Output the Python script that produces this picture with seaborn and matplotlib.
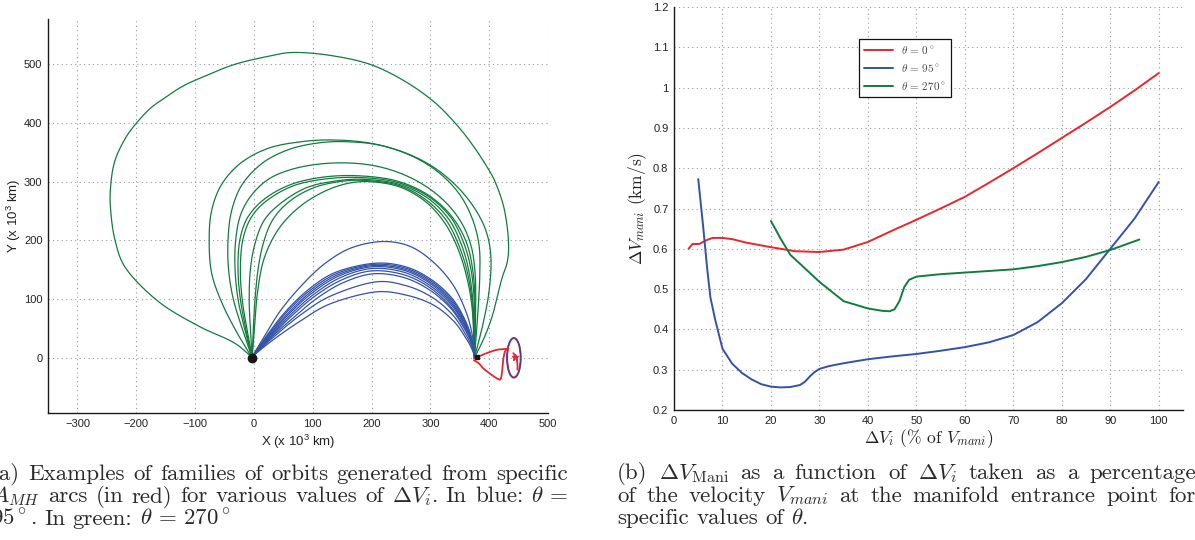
import re
import numpy as np
import pandas as pd
import matplotlib
matplotlib.use("Agg")
import matplotlib.pyplot as plt
import seaborn as sns
from matplotlib.patches import Ellipse

# ---------------------------------------------------------------- data
# (a) orbit families, waypoints in units of 10^3 km
G_LOOP = [(-4, 2), (-36, 27), (-92, 53), (-160, 94), (-216, 150), (-236, 200), (-244, 258),
          (-243, 298), (-237, 333), (-224, 364), (-206, 392), (-177, 424), (-148, 445),
          (-122, 462), (-92, 476), (-35, 499), (22, 513), (67, 520), (130, 515), (197, 500),
          (255, 472), (305, 437), (342, 400), (370, 365), (394, 329), (410, 300), (424, 260),
          (431, 220), (433, 185), (430, 160), (421, 133), (407, 77), (394, 40), (379, 8),
          (375, 1)]
G1 = [(-3, 0), (-30, 45), (-55, 95), (-72, 145), (-76, 200), (-72, 250), (-55, 295), (-22, 332),
      (25, 357), (80, 368), (134, 371), (195, 366), (255, 350), (305, 325), (345, 292), (375, 255),
      (395, 215), (403, 170), (400, 115), (390, 60), (375, 0)]
G2 = [(-3, 0), (-20, 50), (-35, 100), (-43, 150), (-44, 200), (-38, 250), (-20, 295), (15, 332),
      (60, 355), (110, 366), (158, 368), (215, 362), (270, 343), (315, 315), (350, 278), (372, 235),
      (383, 190), (384, 140), (381, 80), (375, 0)]
G3 = [(-3, 0), (-16, 50), (-27, 100), (-32, 150), (-31, 200), (-22, 245), (0, 282), (35, 310),
      (90, 327), (155, 332), (215, 325), (270, 305), (315, 275), (348, 238), (368, 195), (376, 145),
      (377, 80), (375, 0)]
G4 = [(-3, 0), (-14, 50), (-23, 100), (-27, 150), (-24, 200), (-10, 240), (20, 272), (65, 296),
      (120, 308), (178, 310), (240, 302), (292, 280), (333, 245), (360, 200), (372, 150), (376, 90),
      (375, 0)]
G5 = [(-3, 0), (-12, 50), (-20, 100), (-23, 150), (-19, 200), (-4, 240), (25, 270), (70, 294),
      (125, 305), (182, 307), (243, 299), (295, 276), (334, 240), (357, 195), (370, 145), (375, 85),
      (375, 0)]
G6 = [(-3, 0), (-6, 50), (-8, 100), (-6, 150), (2, 195), (18, 235), (48, 265), (90, 290),
      (138, 301), (186, 304), (245, 296), (294, 273), (330, 238), (352, 195), (366, 145), (373, 85),
      (375, 0)]
G7 = [(-3, 0), (-1, 50), (2, 100), (7, 150), (16, 195), (32, 235), (60, 266), (100, 289),
      (145, 300), (190, 302), (245, 294), (290, 271), (325, 237), (347, 195), (363, 145), (372, 85),
      (375, 0)]
G8 = [(-3, 0), (1, 50), (6, 110), (17, 168), (41, 218), (75, 255), (115, 281), (155, 296),
      (195, 300), (245, 292), (288, 269), (320, 236), (343, 195), (360, 145), (371, 85), (375, 0)]

B1 = [(-3, 2), (20, 40), (45, 80), (80, 122), (120, 160), (165, 187), (218, 198), (265, 190),
      (305, 163), (338, 125), (360, 80), (371, 40), (375, 3)]
B2 = [(-3, 2), (25, 42), (55, 80), (95, 118), (140, 146), (205, 161), (258, 155), (302, 133),
      (338, 100), (360, 62), (371, 30), (375, 3)]
B3 = [(-3, 2), (26, 41), (57, 79), (97, 116), (142, 144), (203, 159), (257, 153), (301, 131),
      (337, 98), (360, 60), (371, 29), (375, 3)]
B4 = [(-3, 2), (27, 40), (59, 77), (99, 114), (144, 142), (202, 157), (256, 151), (300, 129),
      (336, 96), (359, 59), (371, 28), (375, 3)]
B5 = [(-3, 2), (28, 39), (61, 76), (101, 112), (146, 140), (201, 155), (255, 149), (299, 127),
      (335, 94), (358, 58), (370, 28), (375, 3)]
B6 = [(-3, 2), (29, 38), (63, 74), (103, 109), (148, 137), (200, 152), (254, 146), (298, 124),
      (334, 92), (358, 56), (370, 27), (375, 3)]
B7 = [(-3, 2), (30, 37), (65, 72), (105, 106), (150, 133), (200, 148), (253, 142), (297, 121),
      (333, 89), (357, 54), (370, 26), (375, 3)]
B8 = [(-3, 2), (31, 36), (68, 69), (108, 102), (152, 128), (202, 143), (254, 137), (298, 116),
      (334, 85), (357, 51), (370, 25), (375, 3)]
B9 = [(-3, 2), (32, 34), (78, 72), (130, 105), (205, 129), (258, 123), (303, 103), (338, 73),
      (360, 40), (371, 18), (375, 3)]
B10 = [(-3, 2), (32, 30), (78, 62), (130, 92), (205, 112), (258, 107), (305, 90), (340, 62),
       (362, 31), (371, 14), (375, 3)]

AMH_TOP = [(374, -1), (386, 4), (396, 8), (413, 13.6), (427, 15), (433, 16)]
AMH_BOTTOM = [(374, -4), (383, -10), (390, -18), (404, -29), (415, -36), (419.5, -36),
              (422, -23), (424, -3), (427, 11), (432, 16.5)]
AMH_HALO = [(441, 8), (445, 2), (447, -3), (448, -12), (448, -20)]
HALO_CENTER = (442, 0)
HALO_SIZE = (24, 68)
EARTH = (-4, 0)
MOON = (379, 1)
STAR = (444, 1)

X_TICKS_A = [-300, -200, -100, 0, 100, 200, 300, 400, 500]
Y_TICKS_A = [0, 100, 200, 300, 400, 500]

# (b) Delta V_mani versus Delta V_i
DVI_T0 = [3, 3.8, 5.2, 6, 7, 8, 10, 12, 15, 20, 25, 30, 35, 40, 45, 50, 55, 60, 65, 70, 75, 80,
          85, 90, 95, 100]
DVM_T0 = [0.600, 0.612, 0.612, 0.617, 0.623, 0.627, 0.627, 0.624, 0.615, 0.604, 0.594, 0.592,
          0.598, 0.617, 0.645, 0.672, 0.700, 0.729, 0.764, 0.800, 0.837, 0.875, 0.913, 0.952,
          0.993, 1.036]
DVI_T95 = [5, 5.5, 6, 6.85, 7.5, 8.5, 10, 12, 14, 16, 18, 20, 22, 24, 26, 27, 28, 29, 30, 32, 35,
           40, 45, 50, 55, 60, 65, 70, 75, 80, 85, 90, 95, 100]
DVM_T95 = [0.773, 0.715, 0.657, 0.550, 0.480, 0.424, 0.352, 0.315, 0.292, 0.276, 0.264, 0.258,
           0.256, 0.257, 0.262, 0.270, 0.283, 0.294, 0.302, 0.309, 0.316, 0.326, 0.333, 0.339,
           0.347, 0.356, 0.368, 0.386, 0.418, 0.465, 0.525, 0.600, 0.675, 0.766]
DVI_T270 = [20, 22, 24, 26.7, 30, 35, 40, 43, 44.5, 45.5, 46.5, 47.5, 48.5, 50, 55, 60, 65, 70,
            75, 80, 85, 90, 96]
DVM_T270 = [0.669, 0.625, 0.585, 0.555, 0.518, 0.470, 0.452, 0.446, 0.445, 0.450, 0.470, 0.505,
            0.523, 0.531, 0.537, 0.541, 0.545, 0.549, 0.557, 0.567, 0.580, 0.597, 0.623]
THETA_LABELS = [r"$\theta\,=\,0^\circ$", r"$\theta\,=\,95^\circ$", r"$\theta\,=\,270^\circ$"]

X_TICKS_B = [0, 10, 20, 30, 40, 50, 60, 70, 80, 90, 100]
Y_TICKS_B = [0.2, 0.3, 0.4, 0.5, 0.6, 0.7, 0.8, 0.9, 1.0, 1.1, 1.2]
Y_TICK_LABELS_B = ["0.2", "0.3", "0.4", "0.5", "0.6", "0.7", "0.8", "0.9", "1", "1.1", "1.2"]

CAPTION_A = ["(a) Examples of families of orbits generated from specific",
             r"$A_{MH}$ arcs (in red) for various values of $\Delta V_i$. In blue: $\theta\,=$",
             r"$95^\circ$. In green: $\theta\,=\,270^\circ$"]
CAPTION_B = [r"(b) $\Delta V_{\mathrm{Mani}}$ as a function of $\Delta V_i$ taken as a percentage",
             r"of the velocity $V_{mani}$ at the manifold entrance point for",
             r"specific values of $\theta$."]

RED = "#e8262b"
BLUE = "#3352a8"
GREEN = "#127c3e"

# ---------------------------------------------------------------- helpers
def smooth_path(pts, n=10):
    """Catmull-Rom pass through the waypoints so orbits render as smooth curves."""
    p = np.asarray(pts, float)
    ext = np.vstack([2 * p[0] - p[1], p, 2 * p[-1] - p[-2]])
    t = np.linspace(0, 1, n, endpoint=False)[:, None]
    segs = []
    for i in range(1, len(ext) - 2):
        p0, p1, p2, p3 = ext[i - 1:i + 3]
        segs.append(0.5 * (2 * p1 + (-p0 + p2) * t + (2 * p0 - 5 * p1 + 4 * p2 - p3) * t ** 2
                           + (-p0 + 3 * p1 - 3 * p2 + p3) * t ** 3))
    segs.append(p[-1:])
    return np.vstack(segs)


def style_axes(ax):
    for side in ("top", "right"):
        ax.spines[side].set_visible(False)
    for side in ("left", "bottom"):
        ax.spines[side].set_color("#1a1a1a")
        ax.spines[side].set_linewidth(1.0)
    ax.tick_params(direction="in", length=4, width=0.8, color="#1a1a1a",
                   labelsize=8, labelcolor="#222222", pad=4)
    ax.grid(True, linestyle=(0, (1, 3)), color="#9a9a9a", linewidth=0.8)
    ax.set_axisbelow(True)


def caption_block(fig, lines, x0, x1, y0, dy, **kw):
    """Typeset a paragraph: every line but the last is stretched to x0..x1 (pixels)."""
    renderer = fig.canvas.get_renderer()
    W, H = fig.bbox.width, fig.bbox.height
    for i, line in enumerate(lines):
        y = 1 - (y0 + dy * i) / H
        words = re.findall(r"(?:\$[^$]*\$|\S)+", line)
        texts = [fig.text(0, y, w, va="baseline", ha="left", **kw) for w in words]
        widths = [t.get_window_extent(renderer).width for t in texts]
        if i < len(lines) - 1 and len(words) > 1:
            gap = (x1 - x0 - sum(widths)) / (len(words) - 1)
        else:
            gap = texts[0].get_fontsize() * 1.389 * 0.33
        x = x0
        for t, w in zip(texts, widths):
            t.set_x(x / W)
            x += w + gap


# ---------------------------------------------------------------- figure
sns.set_theme(style="white")
plt.rcParams["font.family"] = ["Liberation Sans", "DejaVu Sans"]
plt.rcParams["mathtext.fontset"] = "cm"

W, H = 1195, 540
fig = plt.figure(figsize=(W / 100, H / 100), dpi=100)
axA = fig.add_axes([48 / W, (H - 413) / H, 500 / W, 394 / H])
axB = fig.add_axes([674 / W, (H - 410) / H, 509 / W, 403 / H])

# (a) orbit families
frames = []
for fam, orbits in (("270", [G_LOOP, G1, G2, G3, G4, G5, G6, G7, G8]),
                    ("95", [B1, B2, B3, B4, B5, B6, B7, B8, B9, B10])):
    for k, pts in enumerate(orbits):
        xy = smooth_path(pts)
        frames.append(pd.DataFrame({"x": xy[:, 0], "y": xy[:, 1],
                                    "orbit": f"{fam}-{k}", "family": fam}))
orbits_df = pd.concat(frames, ignore_index=True)
sns.lineplot(data=orbits_df, x="x", y="y", hue="family", units="orbit", estimator=None,
             sort=False, palette={"270": GREEN, "95": BLUE}, linewidth=0.9, legend=False, ax=axA)

axA.add_patch(Ellipse(HALO_CENTER, HALO_SIZE[0] - 2, HALO_SIZE[1] - 2, fill=False,
                      edgecolor=RED, linewidth=1.0))
axA.add_patch(Ellipse(HALO_CENTER, HALO_SIZE[0], HALO_SIZE[1], fill=False,
                      edgecolor="#4a3c9c", linewidth=1.1))
for arc in (AMH_TOP, AMH_BOTTOM, AMH_HALO):
    xy = smooth_path(arc)
    axA.plot(xy[:, 0], xy[:, 1], color=RED, linewidth=1.3)
axA.plot(*STAR, marker="*", color=RED, markersize=5)
axA.plot(*EARTH, marker="o", color="#151515", markersize=6)
axA.plot(*MOON, marker="s", color="#151515", markersize=2.5)

axA.set_xlim(-350, 500)
axA.set_ylim(-94, 577)
axA.set_xticks(X_TICKS_A)
axA.set_yticks(Y_TICKS_A)
style_axes(axA)
axA.set_xlabel(r"X (x 10$\mathregular{^3}$ km)", fontsize=9.5, color="#222222", labelpad=3)
axA.set_ylabel(r"Y (x 10$\mathregular{^3}$ km)", fontsize=9.5, color="#222222", labelpad=1)

# (b) manifold insertion cost
for xs, ys, col, lab in ((DVI_T0, DVM_T0, RED, THETA_LABELS[0]),
                         (DVI_T95, DVM_T95, BLUE, THETA_LABELS[1]),
                         (DVI_T270, DVM_T270, GREEN, THETA_LABELS[2])):
    sns.lineplot(x=xs, y=ys, color=col, linewidth=1.4, sort=False, estimator=None,
                 label=lab, ax=axB)

axB.set_xlim(0, 105)
axB.set_ylim(0.2, 1.2)
axB.set_xticks(X_TICKS_B)
axB.set_yticks(Y_TICKS_B)
axB.set_yticklabels(Y_TICK_LABELS_B)
style_axes(axB)
axB.set_xlabel(r"$\Delta V_i$ (% of $V_{mani}$)", fontsize=12.5, family="cmr10",
               color="#222222", labelpad=1)
axB.set_ylabel(r"$\Delta V_{mani}$ (km/s)", fontsize=12.5, family="cmr10",
               color="#222222", labelpad=3)
leg = axB.legend(loc="upper left", bbox_to_anchor=(859 / W, 1 - 39 / H),
                 bbox_transform=fig.transFigure, borderaxespad=0, fontsize=8,
                 frameon=True, fancybox=False, framealpha=1, edgecolor="#111111",
                 handlelength=2.6, handletextpad=0.7, labelspacing=0.55, borderpad=0.45)
leg.get_frame().set_linewidth(0.9)
for t in leg.get_texts():
    t.set_color("#444444")

# captions
caption_style = dict(family="cmr10", fontsize=16.5, color="#2a2a2a")
caption_block(fig, CAPTION_A, -9, 568, 480, 22.5, **caption_style)
caption_block(fig, CAPTION_B, 617, 1196, 479, 22.5, **caption_style)

fig.savefig("out.png", dpi=100)
